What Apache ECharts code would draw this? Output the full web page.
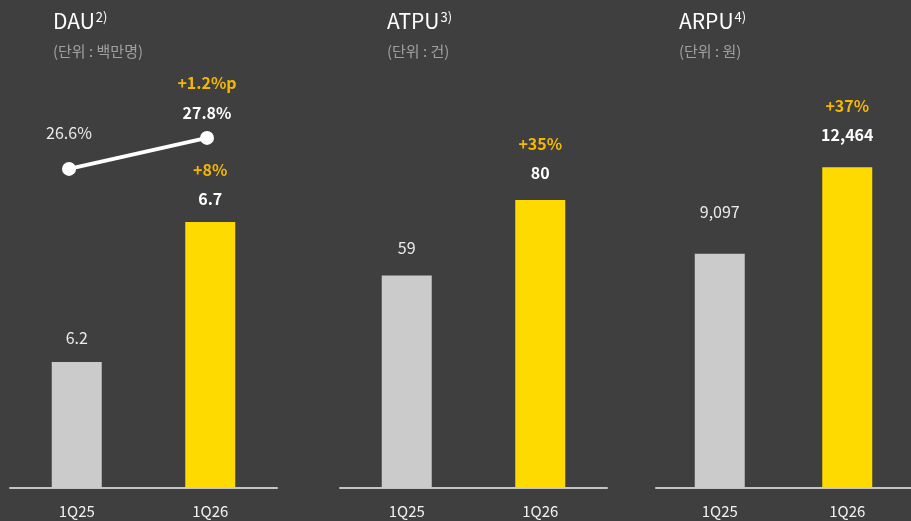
<!DOCTYPE html>
<html>
<head>
<meta charset="utf-8">
<script src="https://cdn.jsdelivr.net/npm/echarts@6/dist/echarts.min.js"></script>
<style>
  html, body { margin: 0; padding: 0; background: #3f3f3f; }
  #chart { width: 911px; height: 521px; }
</style>
</head>
<body>
<div id="chart"></div>
<script>
// data
const quarters = ['1Q25', '1Q26']
const panelTitles = ['DAU', 'ATPU', 'ARPU']
const panelNotes = ['2)', '3)', '4)']
const panelUnits = ['(단위 : 백만명)', '(단위 : 건)', '(단위 : 원)']
const dauValues = [6.2, 6.7]
const atpuValues = [59, 80]
const arpuValues = [9097, 12464]
const growthLabels = ['+8%', '+35%', '+37%']
const shareValues = [26.6, 27.8]
const shareGrowth = '+1.2%p'

const FONT = 'Noto Sans CJK KR'
const values = [dauValues, atpuValues, arpuValues]
const panelLeft = [10, 340, 656]
const titleLeft = [49, 383, 675]
const yRange = [[5.75, 7.35], [0, 124.4], [0, 17405]]
const labelGap = [[10, 9], [13, 12], [27, 18]]
const fmt = [v => v.toFixed(1), v => String(v), v => v.toLocaleString('en-US')]

const chart = echarts.init(document.getElementById('chart'))

const rich = {
  a: { color: '#ececec', fontSize: 16, fontFamily: FONT, lineHeight: 29 },
  b: { color: '#ffffff', fontSize: 16, fontWeight: 'bold', fontFamily: FONT, lineHeight: 29 },
  g: { color: '#f5b800', fontSize: 16, fontWeight: 'bold', fontFamily: FONT, lineHeight: 29 }
}

const grids = [], xAxes = [], yAxes = [], series = [], titles = []
for (let i = 0; i < 3; i++) {
  grids.push({ left: panelLeft[i], top: 40, width: 267, bottom: 33 })
  xAxes.push({
    type: 'category', gridIndex: i, data: quarters,
    axisLine: { lineStyle: { color: '#c4c4c4', width: 2 } },
    axisTick: { show: false },
    axisLabel: { color: '#f2f2f2', fontSize: 15, fontFamily: FONT, margin: 16 }
  })
  yAxes.push({
    type: 'value', gridIndex: i, min: yRange[i][0], max: yRange[i][1],
    show: false, splitLine: { show: false }
  })
  series.push({
    type: 'bar', xAxisIndex: i, yAxisIndex: i, barWidth: 50,
    data: values[i].map((v, k) => ({
      value: v,
      itemStyle: { color: k === 0 ? '#cbcbcb' : '#ffda00' },
      label: {
        show: true, position: 'top', distance: labelGap[i][k],
        formatter: k === 0 ? '{a|' + fmt[i](v) + '}' : '{g|' + growthLabels[i] + '}\n{b|' + fmt[i](v) + '}',
        rich: rich
      }
    }))
  })
  titles.push({
    left: titleLeft[i] - 1, top: 6,
    text: '{t|' + panelTitles[i] + '}{s|' + panelNotes[i] + '}',
    textStyle: {
      rich: {
        t: { color: '#ffffff', fontSize: 21, fontWeight: 'normal', fontFamily: FONT, verticalAlign: 'bottom' },
        s: { color: '#ffffff', fontSize: 13, fontWeight: 'normal', fontFamily: FONT, verticalAlign: 'top', padding: [0, 0, 8, 1] }
      }
    },
    subtext: panelUnits[i],
    itemGap: 12,
    subtextStyle: { color: '#a0a0a0', fontSize: 15, fontFamily: FONT }
  })
}

// share line in DAU panel
grids.push({ left: 0, top: 40, width: 276, bottom: 33 })
xAxes.push({ type: 'category', gridIndex: 3, data: quarters, show: false })
yAxes.push({ type: 'value', gridIndex: 3, min: 14.25, max: 31.59, show: false, splitLine: { show: false } })
series.push({
  type: 'line', xAxisIndex: 3, yAxisIndex: 3,
  symbol: 'circle', symbolSize: 14,
  lineStyle: { color: '#ffffff', width: 4 },
  itemStyle: { color: '#ffffff' },
  data: shareValues.map((v, k) => ({
    value: v,
    label: {
      show: true, position: 'top', distance: k === 0 ? 14 : 3,
      formatter: k === 0 ? '{a|' + v.toFixed(1) + '%}' : '{g|' + shareGrowth + '}\n{b|' + v.toFixed(1) + '%}',
      rich: {
        a: Object.assign({}, rich.a, { lineHeight: 30 }),
        b: Object.assign({}, rich.b, { lineHeight: 30 }),
        g: Object.assign({}, rich.g, { lineHeight: 30 })
      }
    }
  }))
})

chart.setOption({
  backgroundColor: '#3f3f3f',
  animation: false,
  title: titles,
  grid: grids,
  xAxis: xAxes,
  yAxis: yAxes,
  series: series
})
</script>
</body>
</html>
